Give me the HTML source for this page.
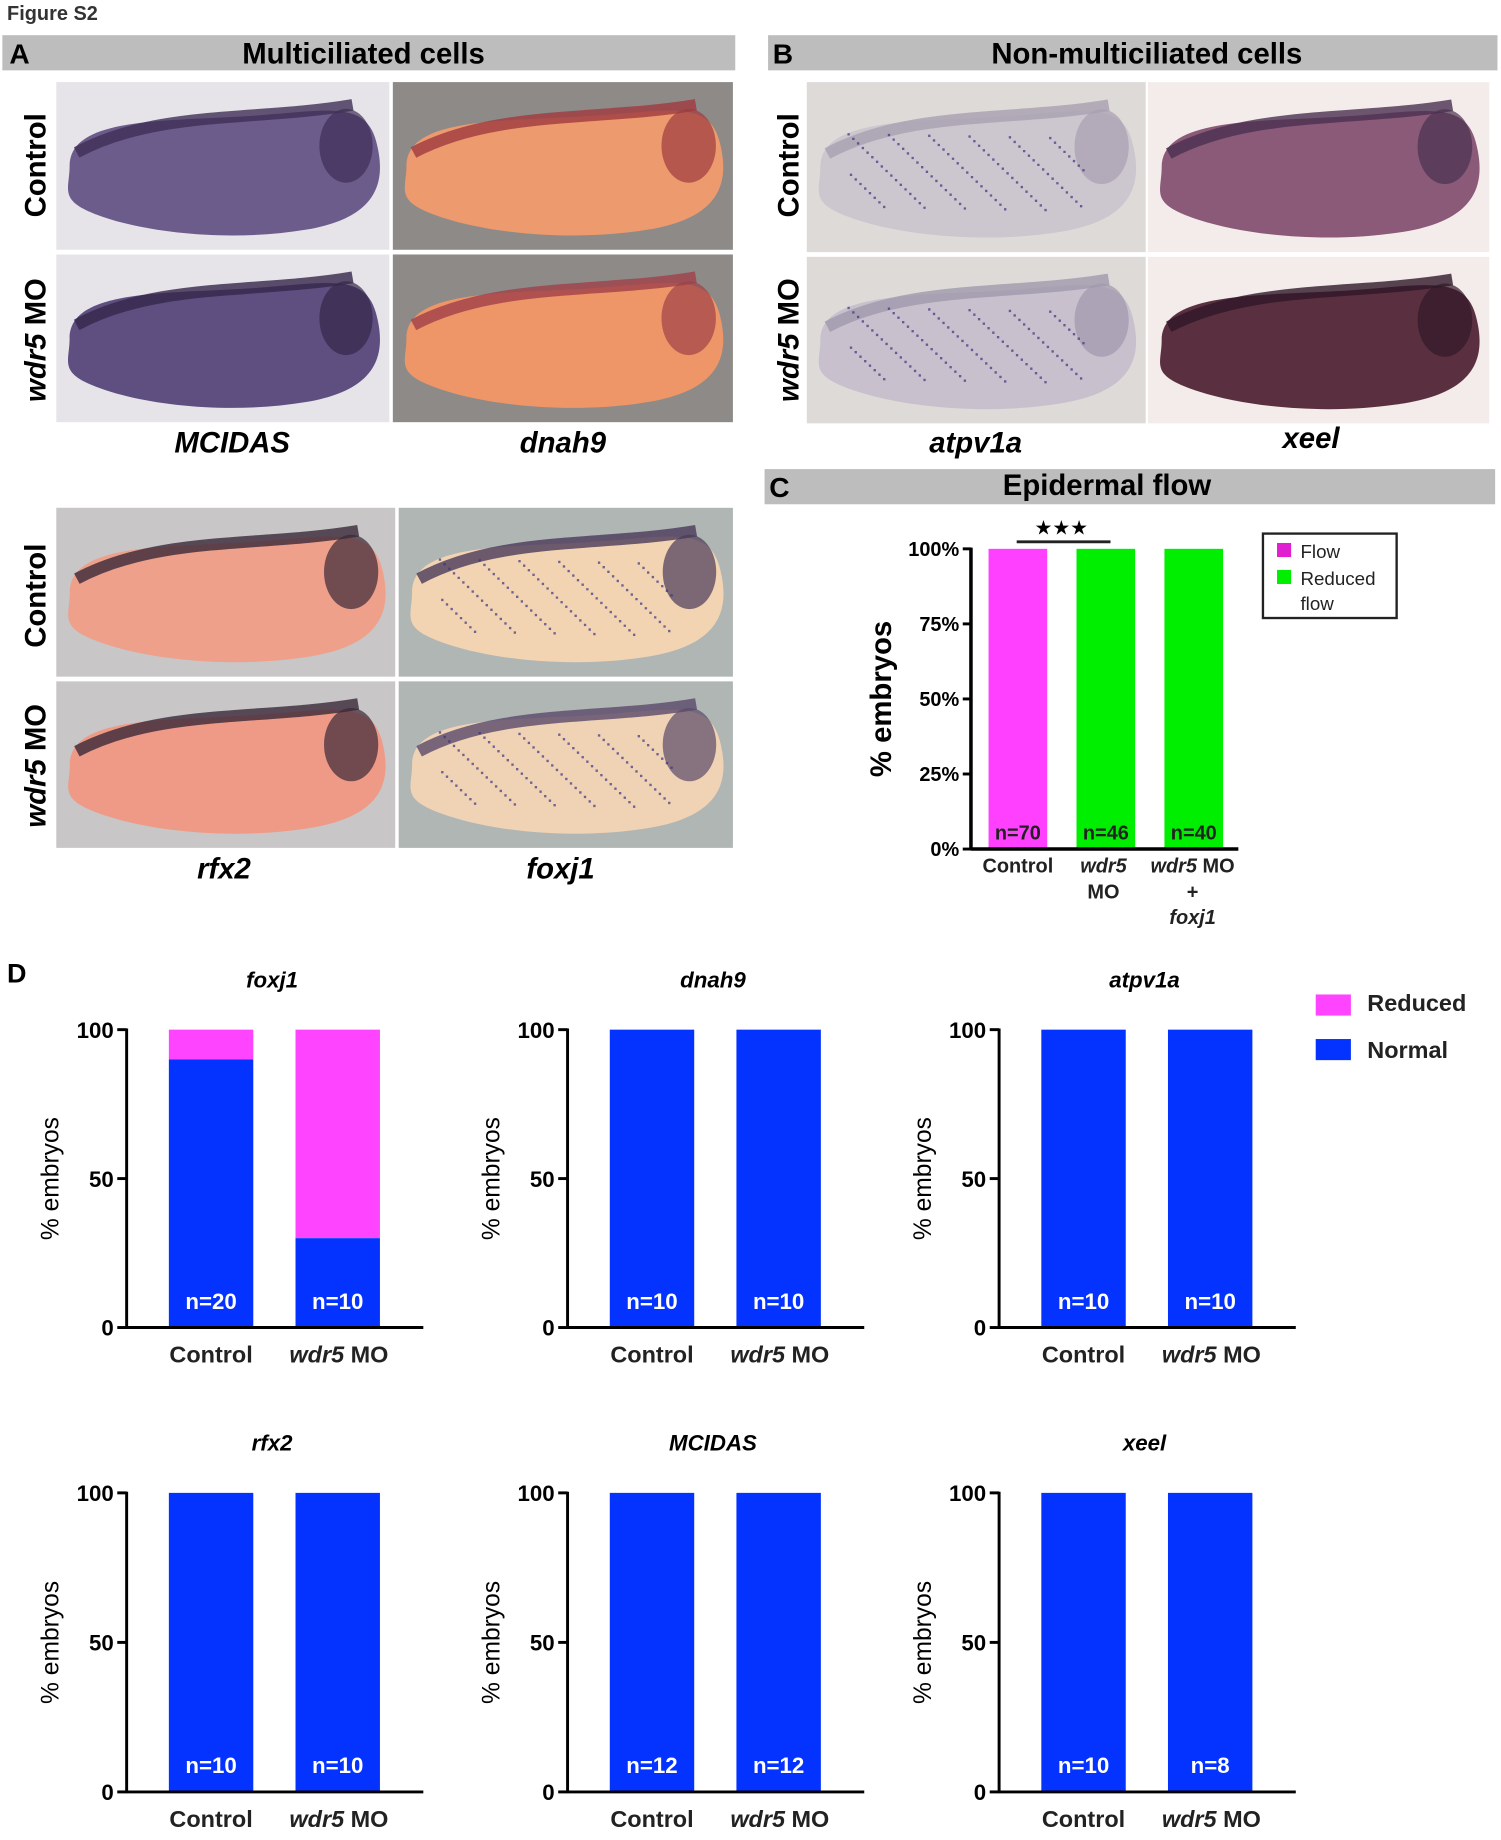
<!DOCTYPE html>
<html><head><meta charset="utf-8"><style>
html,body{margin:0;padding:0;background:#fff;}
svg{display:block;font-family:"Liberation Sans",Arial,sans-serif;}
</style></head><body>
<svg id="fig" width="1501" height="1840" viewBox="0 0 1280 1569" preserveAspectRatio="none" xmlns="http://www.w3.org/2000/svg">
<text x="6" y="17" font-size="17" font-weight="bold" fill="#333">Figure S2</text>
<g>
<rect x="2" y="30" width="625" height="30" fill="#bdbdbd"/>
<text x="8" y="54" font-size="24" font-weight="bold">A</text>
<text x="310" y="54" font-size="25" font-weight="bold" text-anchor="middle">Multiciliated cells</text>
</g>
<g>
<rect x="655" y="30" width="622" height="30" fill="#bdbdbd"/>
<text x="659" y="54" font-size="24" font-weight="bold">B</text>
<text x="978" y="54" font-size="25" font-weight="bold" text-anchor="middle">Non-multiciliated cells</text>
</g>
<g>
<rect x="652" y="400" width="623" height="30" fill="#bdbdbd"/>
<text x="656" y="424" font-size="24" font-weight="bold">C</text>
<text x="944" y="422" font-size="25" font-weight="bold" text-anchor="middle">Epidermal flow</text>
</g>
<text x="6" y="838" font-size="23" font-weight="bold">D</text>
<g id="imgs"></g>
<g id="chartC"></g>
<g id="chartD"></g>
</svg>
<script>
const NS="http://www.w3.org/2000/svg";
function mk(parent,tag,attrs,text){const e=document.createElementNS(NS,tag);for(const k in attrs)e.setAttribute(k,attrs[k]);if(text!==undefined)e.textContent=text;parent.appendChild(e);return e;}
const imgs=document.getElementById('imgs');
const photos=[
 {n:'mcidas-control',x:48,y:70,w:284,h:143,bg:'#e6e4e8',em:'#6b5c8c',top:'#3e2e56',dots:0},
 {n:'mcidas-wdr5',x:48,y:217,w:284,h:143,bg:'#e6e4e8',em:'#5e4f80',top:'#34264a',dots:0},
 {n:'dnah9-control',x:335,y:70,w:290,h:143,bg:'#8e8a88',em:'#ec9a6e',top:'#a03a40',dots:0},
 {n:'dnah9-wdr5',x:335,y:217,w:290,h:143,bg:'#8e8a88',em:'#ee9668',top:'#a04048',dots:0},
 {n:'atpv1a-control',x:688,y:70,w:289,h:145,bg:'#dedad8',em:'#ccc6ce',top:'#a8a0b0',dots:1},
 {n:'atpv1a-wdr5',x:688,y:219,w:289,h:142,bg:'#dedad8',em:'#c8c0cc',top:'#a098ac',dots:1},
 {n:'xeel-control',x:979,y:70,w:291,h:145,bg:'#f3ecea',em:'#8a5a78',top:'#4a3050',dots:0},
 {n:'xeel-wdr5',x:979,y:219,w:291,h:142,bg:'#f3ecea',em:'#5a3040',top:'#301828',dots:0},
 {n:'rfx2-control',x:48,y:433,w:289,h:144,bg:'#c8c6c6',em:'#eea08a',top:'#3a2838',dots:0},
 {n:'rfx2-wdr5',x:48,y:581,w:289,h:142,bg:'#c8c6c6',em:'#ee9a86',top:'#3a2838',dots:0},
 {n:'foxj1-control',x:340,y:433,w:285,h:144,bg:'#b0b6b4',em:'#f2d4b2',top:'#4a3a5a',dots:1},
 {n:'foxj1-wdr5',x:340,y:581,w:285,h:142,bg:'#b0b6b4',em:'#f0d2b4',top:'#5a4a6a',dots:1}];
photos.forEach(p=>{
 const g=mk(imgs,'g',{});
 
 
 mk(g,'rect',{x:p.x,y:p.y,width:p.w,height:p.h,fill:p.bg});
 const L=p.x+p.w*0.04,R=p.x+p.w*0.96,T=p.y+p.h*0.15,B=p.y+p.h*0.88;
 const d=`M${L} ${p.y+p.h*0.5} C${L} ${T+10} ${p.x+p.w*0.3} ${T+12} ${p.x+p.w*0.55} ${T+8} S${R-10} ${T-8} ${R} ${p.y+p.h*0.35} S${R} ${B-10} ${p.x+p.w*0.75} ${B} S${p.x+p.w*0.3} ${B+4} ${p.x+p.w*0.15} ${B-10} S${L} ${p.y+p.h*0.65} ${L} ${p.y+p.h*0.5}Z`;
 mk(g,'path',{d:d,fill:p.em});
 mk(g,'path',{d:`M${L+6} ${p.y+p.h*0.42} C${p.x+p.w*0.3} ${T+2} ${p.x+p.w*0.6} ${T+12} ${R-20} ${T-2}`,stroke:p.top,'stroke-width':10,fill:'none',opacity:0.8});
 mk(g,'ellipse',{cx:p.x+p.w*0.87,cy:p.y+p.h*0.38,rx:p.w*0.08,ry:p.h*0.22,fill:p.top,opacity:0.7});
 if(p.dots){let s='';for(let i=0;i<140;i++){const fx=((i*37)%100)/100,fy=((i*61)%100)/100;const cx=p.x+p.w*(0.12+fx*0.7),cy=p.y+p.h*(0.3+fy*0.45);s+=`M${cx} ${cy}h2v2h-2z`;}mk(g,'path',{d:s,fill:'#3a3080',opacity:0.7});}
});
const rowLabels=[[30,141,'Control'],[30,290,'wdr5 MO'],[672,141,'Control'],[672,290,'wdr5 MO'],[30,508,'Control'],[30,653,'wdr5 MO']];
rowLabels.forEach(r=>{
 const t=mk(imgs,'text',{x:r[0]+9,y:r[1],'font-size':25,'font-weight':'bold','text-anchor':'middle',transform:`rotate(-90 ${r[0]+9} ${r[1]})`});
 
 
 if(r[2]==='Control'){t.textContent='Control';}else{mk(t,'tspan',{'font-style':'italic'},'wdr5');mk(t,'tspan',{},' MO');}
});
const geneLabels=[[198,386,'MCIDAS'],[480,386,'dnah9'],[832,386,'atpv1a'],[1118,382,'xeel'],[191,749,'rfx2'],[478,749,'foxj1']];
geneLabels.forEach(l=>{
 const t=mk(imgs,'text',{x:l[0],y:l[1],'font-size':25,'font-weight':'bold','font-style':'italic','text-anchor':'middle'},l[2]);
 
 
});

const cCategories=['Control','wdr5 MO','wdr5 MO + foxj1'];
const cFlow=[100,0,0];
const cReduced=[0,100,100];
const cN=['n=70','n=46','n=40'];
const cTicks=[0,25,50,75,100];
(function(){
 const g=document.getElementById('chartC');
 const y0=724,y1=468,ax=828;
 const ys=v=>y0-(v/100)*(y0-y1);
 const xs=i=>843+i*75;
 const bw=50;
 cTicks.forEach(t=>{
  mk(g,'line',{x1:ax-7,x2:ax,y1:ys(t),y2:ys(t),stroke:'#000','stroke-width':2.5});
  const tt=mk(g,'text',{x:ax-10,y:ys(t)+6,'font-size':17,'font-weight':'bold','text-anchor':'end'},t+'%');
  
  
 });
 cCategories.forEach((c,i)=>{
  const r1=mk(g,'rect',{x:xs(i),y:ys(cFlow[i]),width:bw,height:y0-ys(cFlow[i]),fill:'#ff40ff'});
  
  
  const r2=mk(g,'rect',{x:xs(i),y:ys(cFlow[i]+cReduced[i]),width:bw,height:ys(cFlow[i])-ys(cFlow[i]+cReduced[i]),fill:'#00ee00'});
  
  
  const n=mk(g,'text',{x:xs(i)+bw/2,y:716,'font-size':17,'font-weight':'bold','text-anchor':'middle',fill:'#222'},cN[i]);
  
  
 });
 mk(g,'line',{x1:ax,x2:ax,y1:y1-1,y2:y0+1,stroke:'#000','stroke-width':3});
 mk(g,'line',{x1:ax,x2:1056,y1:y0,y2:y0,stroke:'#000','stroke-width':3});
 const xl=[[868,744,[['Control','']]],[941,744,[['wdr5','i']]],[941,766,[['MO','']]],[1017,744,[['wdr5','i'],[' MO','']]],[1017,766,[['+','']]],[1017,788,[['foxj1','i']]]];
 xl.forEach(l=>{const t=mk(g,'text',{x:l[0],y:l[1],'font-size':17,'font-weight':'bold','text-anchor':'middle',fill:'#222'});
  
  l[2].forEach(s=>mk(t,'tspan',s[1]?{'font-style':'italic'}:{},s[0]));});
 const yt=mk(g,'text',{x:760,y:596,'font-size':25,'font-weight':'bold','text-anchor':'middle',transform:'rotate(-90 760 596)'},'% embryos');
 
 mk(g,'line',{x1:867,x2:947,y1:462,y2:462,stroke:'#222','stroke-width':2.5});
 const st=mk(g,'text',{x:905,y:456,'font-size':17,'text-anchor':'middle'},'★★★');
 
 const lg=mk(g,'g',{});
 mk(lg,'rect',{x:1077,y:455,width:114,height:72,fill:'#fff',stroke:'#222','stroke-width':2});
 mk(lg,'rect',{x:1089,y:463,width:12,height:12,fill:'#e020d0'});
 mk(lg,'text',{x:1109,y:476,'font-size':16,fill:'#222'},'Flow');
 mk(lg,'rect',{x:1089,y:486,width:12,height:12,fill:'#00ee00'});
 mk(lg,'text',{x:1109,y:499,'font-size':16,fill:'#222'},'Reduced');
 mk(lg,'text',{x:1109,y:520,'font-size':16,fill:'#222'},'flow');
})();

const dTitles=['foxj1','dnah9','atpv1a','rfx2','MCIDAS','xeel'];
const dNormalControl=[90,100,100,100,100,100];
const dNormalWdr5=[30,100,100,100,100,100];
const dNControl=['n=20','n=10','n=10','n=10','n=12','n=10'];
const dNWdr5=['n=10','n=10','n=10','n=10','n=12','n=8'];
const dTicks=[0,50,100];
(function(){
 const G=document.getElementById('chartD');
 const axX=[108,484,852];
 dTitles.forEach((title,k)=>{
  const col=k%3,row=Math.floor(k/3);
  const ax=axX[col];
  const y0=row?1528:1132, y1=row?1273:878;
  const ys=v=>y0-(v/100)*(y0-y1);
  const g=mk(G,'g',{});
  
  
  const tt=mk(g,'text',{x:ax+124,y:y1-36,'font-size':19,'font-weight':'bold','font-style':'italic','text-anchor':'middle'},title);
  
  const vals=[dNormalControl[k],dNormalWdr5[k]], ns=[dNControl[k],dNWdr5[k]];
  vals.forEach((v,i)=>{
   const bx=ax+36+i*108;
   const rp=mk(g,'rect',{x:bx,y:ys(100),width:72,height:ys(v)-ys(100),fill:'#ff44ff'});
   
   const rb=mk(g,'rect',{x:bx,y:ys(v),width:72,height:y0-ys(v),fill:'#0433ff'});
   
   const n=mk(g,'text',{x:bx+36,y:y0-16,'font-size':19,'font-weight':'bold','text-anchor':'middle',fill:'#fff'},ns[i]);
   
  });
  dTicks.forEach(t=>{
   mk(g,'line',{x1:ax-8,x2:ax,y1:ys(t),y2:ys(t),stroke:'#000','stroke-width':2.5});
   const l=mk(g,'text',{x:ax-11,y:ys(t)+7,'font-size':19,'font-weight':'bold','text-anchor':'end'},String(t));
   
  });
  mk(g,'line',{x1:ax,x2:ax,y1:y1-1,y2:y0+1,stroke:'#000','stroke-width':2.5});
  mk(g,'line',{x1:ax,x2:ax+253,y1:y0,y2:y0,stroke:'#000','stroke-width':2.5});
  const yt=mk(g,'text',{x:ax-58,y:(y0+y1)/2,'font-size':21,'text-anchor':'middle',transform:`rotate(-90 ${ax-58} ${(y0+y1)/2})`},'% embryos');
  
  const x1=mk(g,'text',{x:ax+72,y:y0+30,'font-size':20,'font-weight':'bold','text-anchor':'middle',fill:'#222'},'Control');
  
  const x2=mk(g,'text',{x:ax+181,y:y0+30,'font-size':20,'font-weight':'bold','text-anchor':'middle',fill:'#222'});
  
  mk(x2,'tspan',{'font-style':'italic'},'wdr5');mk(x2,'tspan',{},' MO');
 });
 const lg=mk(G,'g',{});
 mk(lg,'rect',{x:1122,y:848,width:30,height:18,fill:'#ff44ff'});
 mk(lg,'text',{x:1166,y:862,'font-size':20,'font-weight':'bold',fill:'#222'},'Reduced');
 mk(lg,'rect',{x:1122,y:886,width:30,height:18,fill:'#0433ff'});
 mk(lg,'text',{x:1166,y:902,'font-size':20,'font-weight':'bold',fill:'#222'},'Normal');
})();
</script>
</body></html>
